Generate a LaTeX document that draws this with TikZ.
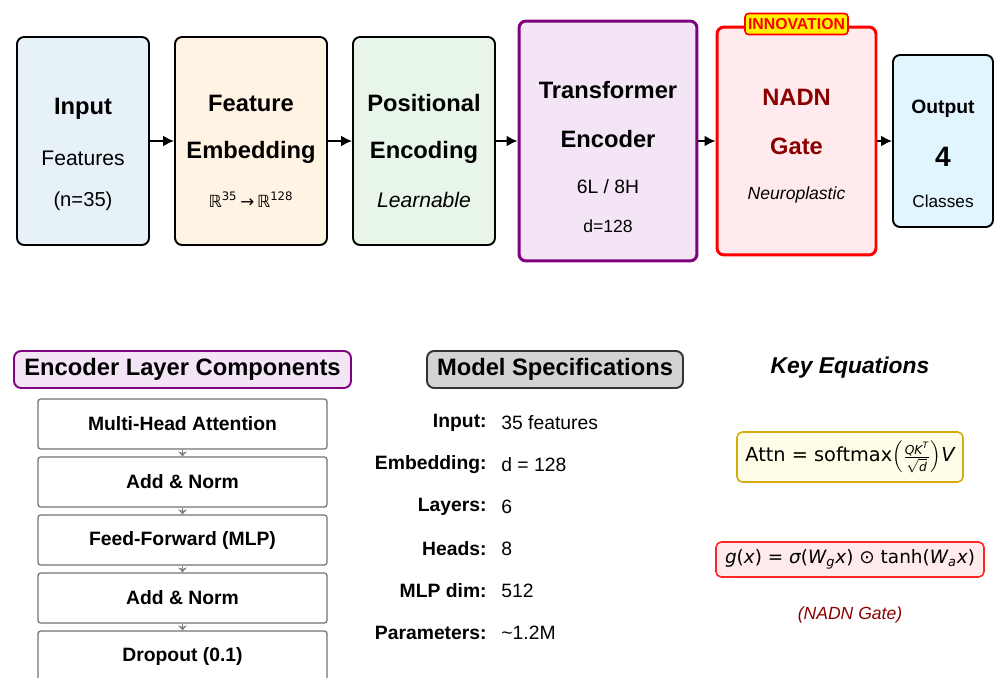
\documentclass[tikz,border=0pt]{standalone}
\usepackage{fontspec}
\setmainfont{Liberation Sans}
\newfontfamily\eqfont{DejaVu Sans}
\usetikzlibrary{arrows.meta, positioning, calc}
\usepackage{xcolor}
\definecolor{inblue}{HTML}{E6F2F8}
\definecolor{outblue}{HTML}{E1F5FE}
\definecolor{embfill}{HTML}{FFF3E3}
\definecolor{posfill}{HTML}{E8F5E9}
\definecolor{trfill}{HTML}{F3E5F5}
\definecolor{trline}{HTML}{800080}
\definecolor{gatefill}{HTML}{FFEBEE}
\definecolor{gatered}{HTML}{8B0000}
\definecolor{eqgold}{HTML}{D4AC0D}
\definecolor{eqyellow}{HTML}{FFFDE7}
\definecolor{specgray}{HTML}{D3D3D3}

\newcommand{\fs}[1]{\fontsize{#1}{#1}\selectfont}
\newcommand{\eqi}[1]{{\eqfont\itshape #1}}

\tikzset{
  stage/.style={draw=black, line width=1.1pt, rounded corners=4pt, inner sep=0pt},
  headtxt/.style={font=\fs{13.5}\bfseries},
  bodytxt/.style={font=\fs{12}},
  flow/.style={line width=1.1pt, -{Latex[length=2.2mm,width=2.2mm]}},
  compbox/.style={draw=gray!90!black, line width=0.7pt, rounded corners=1.5pt, fill=white,
    minimum width=5.78cm, minimum height=1cm, font=\fs{11}\bfseries},
  compflow/.style={gray, line width=0.5pt, -{Stealth[length=1mm,width=1.8mm]}},
  panelhead/.style={rounded corners=4pt, line width=1.1pt, minimum height=0.74cm, font=\fs{13.5}\bfseries},
  speckey/.style={anchor=east, inner sep=0pt, font=\fs{11}\bfseries},
  specval/.style={anchor=west, inner sep=0pt, font=\fs{11}},
  eqbox/.style={rounded corners=3pt, line width=0.9pt, inner sep=0pt}
}

\begin{document}
\begin{tikzpicture}[x=0.02cm, y=-0.02cm]
    \clip (0,0) rectangle (994,677);
    \fill[white] (0,0) rectangle (994,677);

    % pipeline stages
    \node[stage, fill=inblue, minimum width=2.64cm, minimum height=4.16cm] (inp) at (83,141) {};
    \node[stage, fill=embfill, minimum width=3.04cm, minimum height=4.16cm] (emb) at (251,141) {};
    \node[stage, fill=posfill, minimum width=2.84cm, minimum height=4.16cm] (pos) at (424,141) {};
    \node[stage, draw=trline, line width=1.7pt, fill=trfill, minimum width=3.56cm, minimum height=4.8cm] (enc) at (608,141) {};
    \node[stage, draw=red, line width=1.7pt, fill=gatefill, minimum width=3.18cm, minimum height=4.56cm] (gate) at (796.5,141) {};
    \node[stage, fill=outblue, minimum width=2.0cm, minimum height=3.44cm] (out) at (943,141) {};
    \node[draw=red, line width=0.9pt, fill=yellow, rounded corners=2pt, minimum width=2.06cm, minimum height=0.42cm,
      inner sep=0pt, text=red, font=\fs{9}\bfseries] (innov) at (796.5,24) {INNOVATION};

    \node[headtxt] (inpA) at (83,109) {Input};
    \node[bodytxt] (inpB) at (83,158) {Features};
    \node[bodytxt, font=\fs{11.5}] (inpC) at (83,201) {(n=35)};

    \node[headtxt] (embA) at (251,103) {Feature};
    \node[headtxt] (embB) at (251,152) {Embedding};
    \node[font=\fs{9.5}\eqfont] (embC) at (251,200) {ℝ\textsuperscript{35}\,→\,ℝ\textsuperscript{128}};

    \node[headtxt] (posA) at (424,103) {Positional};
    \node[headtxt] (posB) at (424,152) {Encoding};
    \node[bodytxt, font=\fs{12}\itshape] (posC) at (424,200) {Learnable};

    \node[headtxt] (encA) at (608,90) {Transformer};
    \node[headtxt] (encB) at (608,139) {Encoder};
    \node[font=\fs{11}] (encC) at (608,187) {6L / 8H};
    \node[font=\fs{10}] (encD) at (608,226) {d=128};

    \node[headtxt, text=gatered] (gateA) at (796.5,97) {NADN};
    \node[headtxt, text=gatered] (gateB) at (796.5,146) {Gate};
    \node[font=\fs{10}\itshape] (gateC) at (796.5,195) {Neuroplastic};

    \node[font=\fs{11}\bfseries] (outA) at (943,109) {Output};
    \node[font=\fs{16}\bfseries] (outB) at (943,157) {4};
    \node[font=\fs{9.8}] (outC) at (943,201) {Classes};

    \draw[flow] (inp) -- (emb);
    \draw[flow] (emb) -- (pos);
    \draw[flow] (pos) -- (enc);
    \draw[flow] (enc) -- (gate);
    \draw[flow] (gate) -- (out);

    % encoder layer panel
    \node[panelhead, draw=trline, fill=trfill, minimum width=6.74cm] (layhead) at (182.5,369.5) {Encoder Layer Components};
    \node[compbox] (c1) at (182.5,424) {Multi-Head Attention};
    \node[compbox] (c2) at (182.5,482) {Add \& Norm};
    \node[compbox] (c3) at (182.5,540) {Feed-Forward (MLP)};
    \node[compbox] (c4) at (182.5,598) {Add \& Norm};
    \node[compbox] (c5) at (182.5,656) {Dropout (0.1)};
    \foreach \a/\b in {c1/c2, c2/c3, c3/c4, c4/c5}
        \draw[compflow] (\a) -- (\b);

    % specifications panel
    \node[panelhead, draw=black!80, fill=specgray, minimum width=5.12cm] (spechead) at (555,369.5) {Model Specifications};
    \foreach \k/\v/\y [count=\i] in {Input:/35 features/423, Embedding:/d = 128/465, Layers:/6/507,
        Heads:/8/549, MLP dim:/512/591, Parameters:/\textasciitilde1.2M/633} {
        \node[speckey] (key\i) at (487,\y) {\k};
        \node[specval] (val\i) at (501,\y) {\v};
    }

    % equations panel
    \node[font=\fs{13}\bfseries\itshape] (eqhead) at (850,368) {Key Equations};
    \node[eqbox, draw=eqgold, fill=eqyellow, minimum width=4.52cm, minimum height=1cm] (attn) at (850,457)
      {\fs{11}\eqfont Attn = softmax$\left(\frac{\hbox{\eqi{\fs{7}QK\textsuperscript{T}}}}{\sqrt{\hbox{\eqi{\fs{7}d}}}}\right)$\eqi{V}};
    \node[eqbox, draw=red!85, fill=gatefill, minimum width=5.36cm, minimum height=0.7cm] (nadn) at (850,559.5)
      {\fs{10.5}\eqfont \eqi{g}(\eqi{x}) = \eqi{σ}(\eqi{W\textsubscript{g}x}) ⊙ tanh(\eqi{W\textsubscript{a}x})};
    \node[font=\fs{10}\itshape, text=gatered] (nadncap) at (850,615) {(NADN Gate)};
\end{tikzpicture}
\end{document}
